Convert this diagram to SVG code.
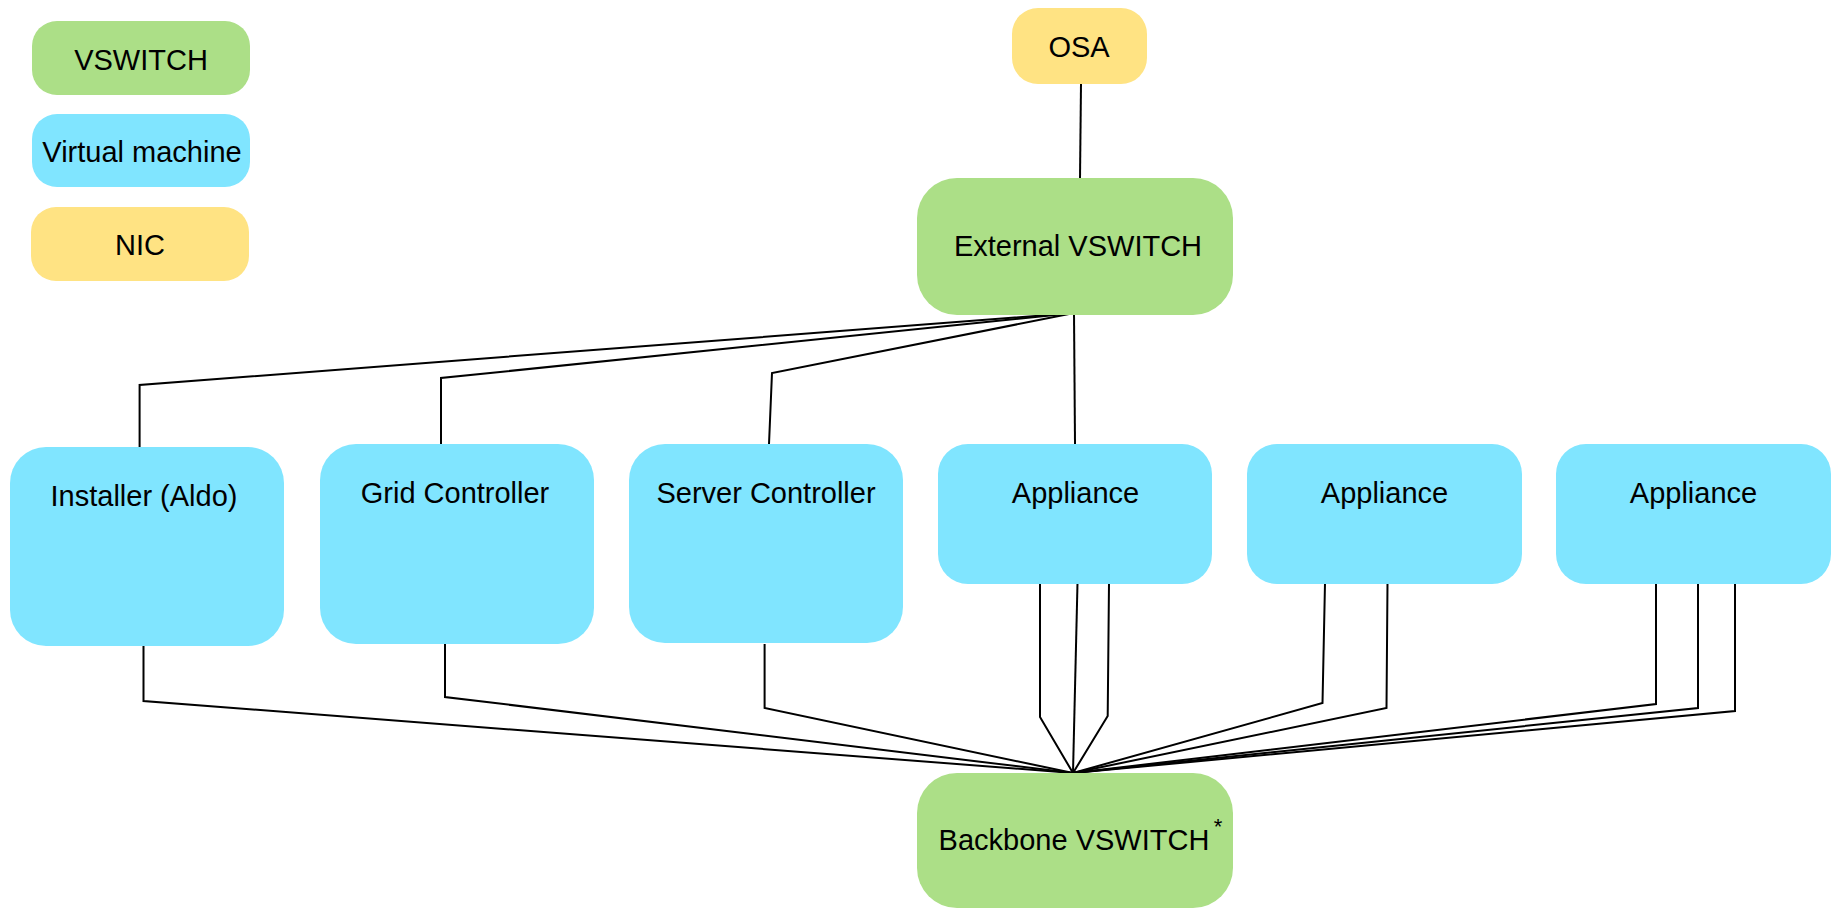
<svg xmlns="http://www.w3.org/2000/svg" width="1836" height="908" viewBox="0 0 1836 908">
<style>
.sw{fill:#ACDF87}
.vm{fill:#80E5FF}
.nic{fill:#FFE383}
text{font-family:"Liberation Sans",Arial,sans-serif;font-size:29px;fill:#000;text-anchor:middle}
.c{fill:none;stroke:#000;stroke-width:2;stroke-linejoin:miter}
</style>
<rect width="1836" height="908" fill="#fff"/>
<g id="legend-vswitch"><rect class="sw" x="32" y="21" width="218" height="74" rx="25"/><text x="141" y="70">VSWITCH</text></g>
<g id="legend-vm"><rect class="vm" x="32" y="114" width="218" height="73" rx="25"/><text x="142" y="162">Virtual machine</text></g>
<g id="legend-nic"><rect class="nic" x="31" y="207" width="218" height="74" rx="25"/><text x="140" y="255">NIC</text></g>

<g id="connectors">
<path class="c" d="M1081 84 L1080 178"/>
<path class="c" d="M139.6 447 L139.6 385 L1074 313"/>
<path class="c" d="M441 444 L441 378 L1074 313"/>
<path class="c" d="M769 444 L772 373 L1074 313"/>
<path class="c" d="M1075 444 L1074 313"/>
<path class="c" d="M143.5 646 L143.5 701 L1073 773"/>
<path class="c" d="M445 644 L445 697 L1073 773"/>
<path class="c" d="M764.6 644 L764.6 708 L1073 773"/>
<path class="c" d="M1040 583 L1040 717 L1073 773"/>
<path class="c" d="M1077.5 583 L1073 773"/>
<path class="c" d="M1109 583 L1107.7 716 L1073 773"/>
<path class="c" d="M1325 583 L1322.5 703 L1073 773"/>
<path class="c" d="M1387.5 583 L1386.5 708 L1073 773"/>
<path class="c" d="M1656 583 L1656 704 L1073 773"/>
<path class="c" d="M1698 583 L1698 708 L1073 773"/>
<path class="c" d="M1735 583 L1735 711 L1073 773"/>
</g>

<g id="osa"><rect class="nic" x="1012" y="8" width="135" height="76" rx="26"/><text x="1079" y="57">OSA</text></g>
<g id="external-vswitch"><rect class="sw" x="917" y="178" width="316" height="137" rx="40"/><text x="1078" y="256">External VSWITCH</text></g>
<g id="installer"><rect class="vm" x="10" y="447" width="274" height="199" rx="36"/><text x="144" y="506">Installer (Aldo)</text></g>
<g id="grid-controller"><rect class="vm" x="320" y="444" width="274" height="200" rx="36"/><text x="455" y="503">Grid Controller</text></g>
<g id="server-controller"><rect class="vm" x="629" y="444" width="274" height="199" rx="36"/><text x="766" y="503">Server Controller</text></g>
<g id="appliance-1"><rect class="vm" x="938" y="444" width="274" height="140" rx="30"/><text x="1075.5" y="503">Appliance</text></g>
<g id="appliance-2"><rect class="vm" x="1247" y="444" width="275" height="140" rx="30"/><text x="1384.5" y="503">Appliance</text></g>
<g id="appliance-3"><rect class="vm" x="1556" y="444" width="275" height="140" rx="30"/><text x="1693.5" y="503">Appliance</text></g>
<g id="backbone-vswitch"><rect class="sw" x="917" y="773" width="316" height="135" rx="40"/><text x="1074" y="850">Backbone VSWITCH</text><text x="1218" y="834" style="font-size:22px">*</text></g>
</svg>
